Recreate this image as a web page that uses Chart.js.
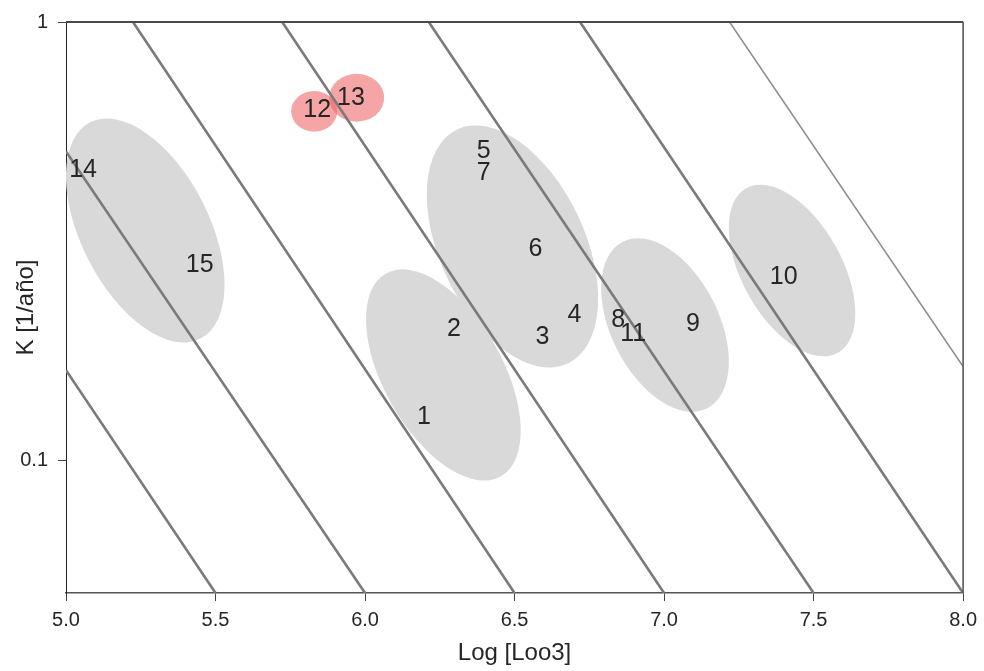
<!DOCTYPE html>
<html>
<head>
<meta charset="utf-8">
<script src="https://cdn.jsdelivr.net/npm/chart.js@4.4.1/dist/chart.umd.min.js"></script>
<style>
  html, body { margin: 0; padding: 0; background: #ffffff; }
  #wrap { width: 984px; height: 671px; }
</style>
</head>
<body>
<div id="wrap"><canvas id="chart" width="984" height="671"></canvas></div>
<script>
// Stocks: position on the auximetric plane
const stockLabels = ['1', '2', '3', '4', '5', '6', '7', '8', '9', '10', '11', '12', '13', '14', '15'];
const stockLogLoo3 = [6.197, 6.297, 6.593, 6.700, 6.397, 6.570, 6.397, 6.847, 7.097, 7.400, 6.897, 5.840, 5.953, 5.057, 5.447];
const stockK = [0.126, 0.200, 0.191, 0.215, 0.507, 0.303, 0.452, 0.209, 0.205, 0.262, 0.1945, 0.631, 0.672, 0.459, 0.280];

// Iso-lines of growth performance (start and end of each line)
const isoStartX = [5.000, 5.000, 5.224, 5.723, 6.213, 6.719, 7.219];
const isoStartK = [0.161, 0.507, 1.000, 1.000, 1.000, 1.000, 1.000];
const isoEndX = [5.500, 6.000, 6.500, 7.000, 7.500, 8.000, 8.000];
const isoEndK = [0.050, 0.050, 0.050, 0.050, 0.050, 0.050, 0.164];

// Groups of stocks: centre, semi-axes (in Log[Loo3] units) and tilt
const groupCenterX = [5.265, 6.262, 6.493, 7.003, 7.428, 5.830, 5.972];
const groupCenterK = [0.335, 0.157, 0.308, 0.204, 0.2715, 0.626, 0.672];
const groupSemiMajor = [0.406, 0.390, 0.433, 0.312, 0.315, 0.077, 0.092];
const groupSemiMinor = [0.214, 0.199, 0.242, 0.180, 0.167, 0.068, 0.080];
const groupTiltDeg = [63, 60.5, 64.7, 63.2, 60.9, 0, 0];
const groupHighlighted = [false, false, false, false, false, true, true];

// Axis ticks
const xMin = 5.0, xMax = 8.0, xStep = 0.5;
const kMin = 0.05, kMax = 1;
const kTicks = [0.1, 1];

const FONT = '"Liberation Sans", Arial, sans-serif';

const isoDatasets = isoStartX.map((x0, i) => ({
  type: 'scatter',
  showLine: true,
  data: [{ x: x0, y: isoStartK[i] }, { x: isoEndX[i], y: isoEndK[i] }],
  borderColor: i === isoStartX.length - 1 ? '#8c8c8c' : '#7a7a7a',
  borderWidth: i === isoStartX.length - 1 ? 1.5 : 2.6,
  pointRadius: 0,
  pointHoverRadius: 0,
  fill: false
}));

const stockDataset = {
  type: 'scatter',
  data: stockLogLoo3.map((x, i) => ({ x: x, y: stockK[i] })),
  pointRadius: 0,
  pointHoverRadius: 0,
  isStocks: true
};

// Shaded groups underneath the lines
const groupPlugin = {
  id: 'groups',
  beforeDatasetsDraw(chart) {
    const { ctx, chartArea, scales } = chart;
    const xs = scales.x, ys = scales.y;
    ctx.save();
    ctx.beginPath();
    ctx.rect(chartArea.left, chartArea.top, chartArea.right - chartArea.left, chartArea.bottom - chartArea.top);
    ctx.clip();
    groupCenterX.forEach((gx, i) => {
      const cx = xs.getPixelForValue(gx);
      const cy = ys.getPixelForValue(groupCenterK[i]);
      const ra = xs.getPixelForValue(gx + groupSemiMajor[i]) - cx;
      const rb = xs.getPixelForValue(gx + groupSemiMinor[i]) - cx;
      ctx.beginPath();
      ctx.ellipse(cx, cy, ra, rb, groupTiltDeg[i] * Math.PI / 180, 0, Math.PI * 2);
      ctx.fillStyle = groupHighlighted[i] ? 'rgba(238, 100, 100, 0.58)' : '#d9d9d9';
      ctx.fill();
    });
    ctx.restore();
  },
  afterDatasetsDraw(chart) {
    const { ctx, chartArea } = chart;
    // stock numbers
    chart.data.datasets.forEach((ds, di) => {
      if (!ds.isStocks) return;
      const meta = chart.getDatasetMeta(di);
      ctx.save();
      ctx.font = '25px ' + FONT;
      ctx.fillStyle = '#262626';
      ctx.textAlign = 'center';
      ctx.textBaseline = 'middle';
      meta.data.forEach((pt, i) => {
        ctx.fillText(stockLabels[i], pt.x, pt.y);
      });
      ctx.restore();
    });
    // frame: top and right sides
    ctx.save();
    ctx.strokeStyle = '#4a4a4a';
    ctx.lineWidth = 2;
    ctx.beginPath();
    ctx.moveTo(chartArea.left, chartArea.top);
    ctx.lineTo(chartArea.right, chartArea.top);
    ctx.stroke();
    ctx.strokeStyle = '#5a5a5a';
    ctx.lineWidth = 1.6;
    ctx.beginPath();
    ctx.moveTo(chartArea.right, chartArea.top);
    ctx.lineTo(chartArea.right, chartArea.bottom);
    ctx.stroke();
    ctx.restore();
  }
};

new Chart(document.getElementById('chart'), {
  type: 'scatter',
  data: { datasets: [...isoDatasets, stockDataset] },
  options: {
    responsive: false,
    animation: false,
    events: [],
    layout: { padding: { top: 18, right: 18, left: 0, bottom: 0 } },
    plugins: { legend: { display: false }, tooltip: { enabled: false } },
    scales: {
      x: {
        type: 'linear',
        min: xMin,
        max: xMax,
        afterFit: s => { s.height = 78; },
        ticks: {
          stepSize: xStep,
          color: '#262626',
          font: { family: FONT, size: 20 },
          padding: 7,
          maxRotation: 0,
          callback: v => Number(v).toFixed(1)
        },
        grid: { drawOnChartArea: false, drawTicks: true, tickLength: 8, color: '#444444', lineWidth: 1 },
        border: { display: true, color: '#555555', width: 1.5 },
        title: {
          display: true,
          text: 'Log [Loo3]',
          color: '#262626',
          font: { family: FONT, size: 24 },
          padding: { top: 0, bottom: 3 }
        }
      },
      y: {
        type: 'logarithmic',
        min: kMin,
        max: kMax,
        afterFit: s => { s.width = 66; },
        afterBuildTicks: s => { s.ticks = kTicks.map(v => ({ value: v })); },
        ticks: {
          color: '#262626',
          font: { family: FONT, size: 20 },
          padding: 10,
          callback: v => String(v)
        },
        grid: { drawOnChartArea: false, drawTicks: true, tickLength: 8, color: '#444444', lineWidth: 1 },
        border: { display: true, color: '#222222', width: 1 },
        title: {
          display: true,
          text: 'K [1/año]',
          color: '#262626',
          font: { family: FONT, size: 24 },
          padding: { top: 12, bottom: 0 }
        }
      }
    }
  },
  plugins: [groupPlugin]
});
</script>
</body>
</html>
